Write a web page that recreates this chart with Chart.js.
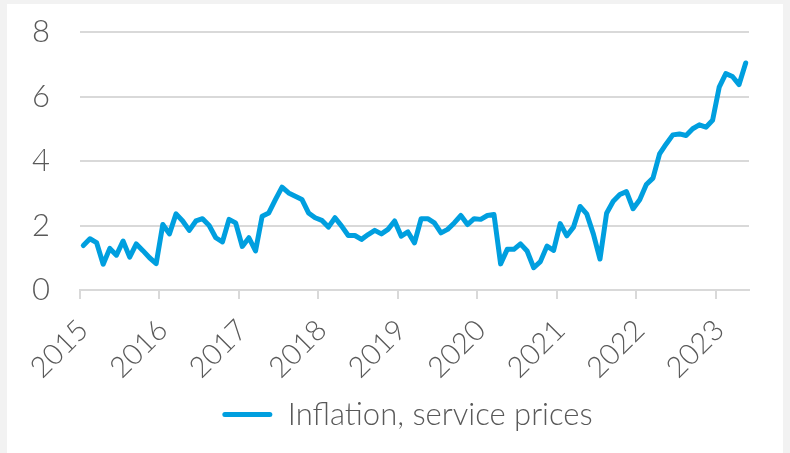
<!DOCTYPE html>
<html>
<head>
<meta charset="utf-8">
<script src="https://cdn.jsdelivr.net/npm/chart.js@4.4.1/dist/chart.umd.min.js"></script>
<style>
  html, body { margin: 0; padding: 0; background: #f2f2f2; }
  #panel { position: absolute; left: 7px; top: 4px; width: 776px; height: 449px; background: #fff; }
  #myChart { position: absolute; left: 0; top: 0; }
</style>
</head>
<body>
<div id="panel"></div>
<canvas id="myChart" width="790" height="453"></canvas>
<script>
// service price inflation, monthly, Jan 2015 - May 2023
var years = ["2015", "2016", "2017", "2018", "2019", "2020", "2021", "2022", "2023"];
var monthsIn2023 = 5;

var serviceInflation = [
  1.38, 1.59, 1.47, 0.80, 1.29, 1.08, 1.52, 1.02, 1.43, 1.22, 1.00, 0.82,
  2.03, 1.74, 2.36, 2.14, 1.85, 2.14, 2.21, 2.00, 1.62, 1.49, 2.19, 2.08,
  1.35, 1.62, 1.21, 2.29, 2.39, 2.80, 3.19, 3.01, 2.91, 2.81, 2.39, 2.24,
  2.16, 1.95, 2.24, 1.98, 1.69, 1.69, 1.57, 1.72, 1.85, 1.74, 1.88, 2.14,
  1.67, 1.80, 1.46, 2.21, 2.21, 2.08, 1.77, 1.88, 2.08, 2.31, 2.03, 2.21,
  2.19, 2.31, 2.34, 0.81, 1.26, 1.26, 1.43, 1.21, 0.69, 0.88, 1.36, 1.23,
  2.06, 1.68, 1.95, 2.59, 2.36, 1.74, 0.96, 2.38, 2.75, 2.96, 3.05, 2.52,
  2.80, 3.27, 3.47, 4.22, 4.53, 4.81, 4.84, 4.79, 5.00, 5.12, 5.05, 5.26,
  6.29, 6.71, 6.62, 6.37, 7.04
];

var yTicks = [0, 2, 4, 6, 8];

var lineColor = '#009fdf';
var gridColor = '#d9d9d9';
var textColor = '#595959';
var font = { family: 'Lato', size: 31, weight: '300' };
var xFont = { family: 'Lato', size: 29, weight: '300' };

// one category per month, year label only on January
var labels = [];
years.forEach(function (y, i) {
  var n = (i === years.length - 1) ? monthsIn2023 : 12;
  for (var m = 0; m < n; m++) {
    labels.push(m === 0 ? y : '');
  }
});

// move the legend a bit right so it sits under the plot area
var shiftLegend = {
  id: 'shiftLegend',
  afterLayout: function (chart) {
    chart.legend.left += 33;
    chart.legend.right += 33;
  }
};

var ctx = document.getElementById('myChart').getContext('2d');

new Chart(ctx, {
  type: 'line',
  data: {
    labels: labels,
    datasets: [{
      label: 'Inflation, service prices',
      data: serviceInflation,
      borderColor: lineColor,
      backgroundColor: lineColor,
      borderWidth: 5,
      borderCapStyle: 'round',
      borderJoinStyle: 'round',
      pointRadius: 0,
      tension: 0,
      fill: false
    }]
  },
  plugins: [shiftLegend],
  options: {
    responsive: false,
    animation: false,
    layout: {
      padding: { left: 0, right: 41, top: 32, bottom: 13 }
    },
    plugins: {
      tooltip: { enabled: false },
      legend: {
        position: 'bottom',
        labels: {
          boxWidth: 50,
          boxHeight: 5,
          color: textColor,
          font: font,
          generateLabels: function (chart) {
            var items = Chart.defaults.plugins.legend.labels.generateLabels(chart);
            items.forEach(function (it) {
              it.lineWidth = 0;
              it.fillStyle = lineColor;
              it.strokeStyle = lineColor;
              it.borderRadius = 2.5;
            });
            return items;
          },
          useBorderRadius: true,
          borderRadius: 2.5
        }
      }
    },
    scales: {
      x: {
        offset: true,
        grid: {
          offset: true,
          drawOnChartArea: false,
          drawTicks: true,
          tickLength: 9,
          lineWidth: 2,
          color: function (c) {
            return (c.index !== undefined && c.index % 12 === 0) ? gridColor : 'rgba(0,0,0,0)';
          }
        },
        border: { display: true, color: gridColor, width: 2 },
        ticks: {
          autoSkip: false,
          minRotation: 45,
          maxRotation: 45,
          padding: 14,
          color: textColor,
          font: xFont
        },
        afterFit: function (scale) { scale.height = 99; }
      },
      y: {
        min: 0,
        max: 8,
        afterBuildTicks: function (scale) {
          scale.ticks = yTicks.map(function (v) { return { value: v }; });
        },
        grid: {
          color: gridColor,
          lineWidth: 2,
          drawTicks: true,
          tickLength: 30,
          tickColor: 'rgba(0,0,0,0)'
        },
        border: { display: false },
        ticks: {
          padding: 0,
          color: textColor,
          font: font
        },
        afterFit: function (scale) { scale.width = 80; }
      }
    }
  }
});
</script>
</body>
</html>
